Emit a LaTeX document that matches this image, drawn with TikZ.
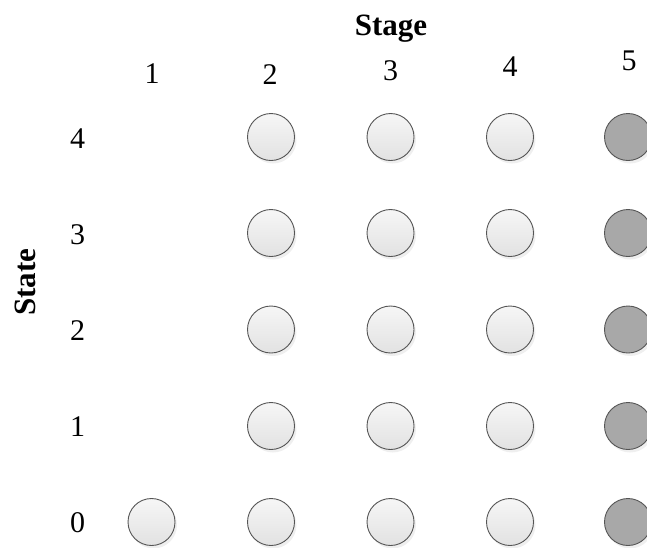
\documentclass[tikz,border=0pt]{standalone}
\usepackage{fontspec}
\setmainfont{Liberation Serif}
\usepackage{tikz}
\usetikzlibrary{shadows}
\definecolor{circedge}{HTML}{555555}
\definecolor{circtop}{HTML}{F6F6F6}
\definecolor{circbot}{HTML}{E2E2E2}
\definecolor{circdark}{HTML}{A8A8A8}

\begin{document}
\begin{tikzpicture}[x=1pt, y=-1pt,
    statecirc/.style={circle, draw=circedge, line width=0.9pt, minimum size=47pt, inner sep=0pt,
                      top color=circtop, bottom color=circbot,
                      drop shadow={shadow xshift=2pt, shadow yshift=-3pt, fill=black!12}},
    endcirc/.style={statecirc, top color=circdark, bottom color=circdark},
    num/.style={font=\fontsize{30}{36}\selectfont, inner sep=0pt},
    axis/.style={font=\fontsize{31}{36}\selectfont\bfseries, inner sep=0pt}
]
\useasboundingbox (0,0) rectangle (647,547);

% titles
\node[axis, anchor=base] (stage) at (391,35) {Stage};
\node[axis, anchor=base, rotate=90] (state) at (35,282) {State};

% stage numbers
\foreach \c/\x/\y in {1/152/73.5, 2/270/75, 3/390.5/71, 4/510/66.5, 5/629/61}
    \node[num] (stg\c) at (\x,\y) {\c};

% state numbers
\foreach \r/\y in {0/523, 1/427, 2/331, 3/235, 4/138.5}
    \node[num] (st\r) at (77.5,\y) {\r};

% states
\node[statecirc] (s1-0) at (151.5,522) {};
\foreach \c/\x in {2/271, 3/390.5, 4/510}
    \foreach \r/\y in {0/522, 1/426, 2/329.5, 3/233, 4/137}
        \node[statecirc] (s\c-\r) at (\x,\y) {};
\foreach \r/\y in {0/522, 1/426, 2/329.5, 3/233, 4/137}
    \node[endcirc] (s5-\r) at (628,\y) {};
\end{tikzpicture}
\end{document}
